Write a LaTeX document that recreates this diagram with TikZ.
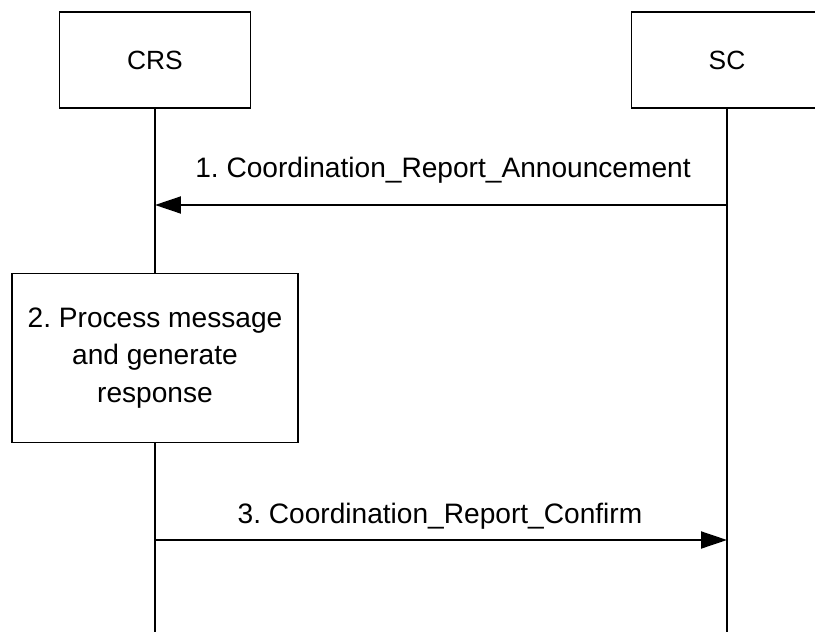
\documentclass[tikz,border=0pt]{standalone}
\usepackage{fontspec}
\setmainfont{Liberation Sans}
\usetikzlibrary{arrows.meta}
\frenchspacing
\begin{document}
\begin{tikzpicture}[x=0.02cm,y=-0.02cm,line width=1.1pt,
  entity/.style={draw,minimum width=3.82cm,minimum height=1.92cm,font=\fontsize{15}{17}\selectfont},
  procbox/.style={draw,minimum width=5.72cm,minimum height=3.38cm,align=center,font=\fontsize{16}{21.5}\selectfont},
  msg/.style={-{Triangle[length=5.2mm,width=3.4mm]}},
  lbl/.style={font=\fontsize{16}{18}\selectfont}]
\useasboundingbox (0,0) rectangle (815,632);
\node [entity] (CRS) at (155,60) {CRS};
\node [entity] (SC) at (727,60) {SC};
\node [procbox] (Proc) at (155,358) {2. Process message\\and generate\\response};
\coordinate (CRSend) at (155,632);
\coordinate (SCend) at (727,632);
\coordinate (A1) at (727,205);
\coordinate (B1) at (155,205);
\coordinate (A3) at (155,540);
\coordinate (B3) at (727,540);
\draw (CRS) -- (Proc);
\draw (Proc) -- (CRSend);
\draw (SC) -- (SCend);
\draw [msg] (A1) -- (B1);
\draw [msg] (A3) -- (B3);
\node [lbl] (L1) at (443,170) {1. Coordination\_Report\_Announcement};
\node [lbl] (L3) at (440,516) {3. Coordination\_Report\_Confirm};
\end{tikzpicture}
\end{document}
